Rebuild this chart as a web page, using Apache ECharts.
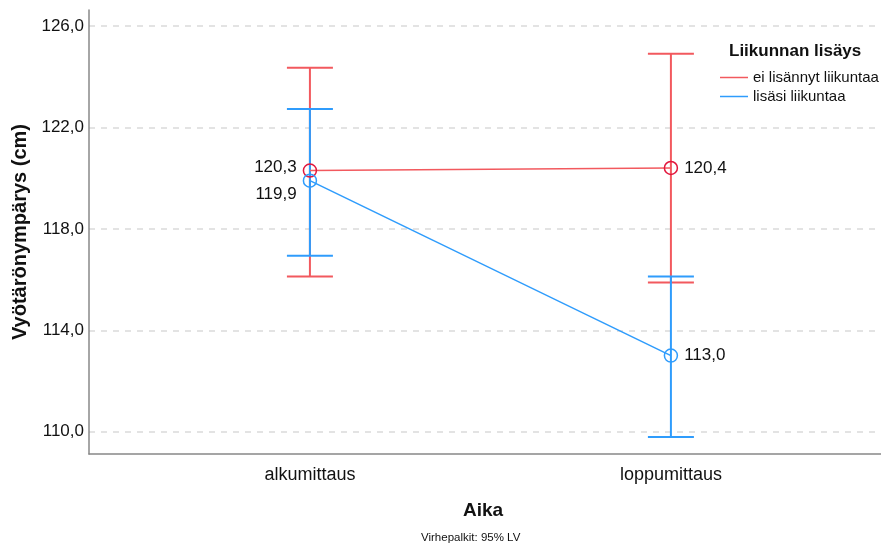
<!DOCTYPE html>
<html><head><meta charset="utf-8">
<script src="https://cdn.jsdelivr.net/npm/echarts@6/dist/echarts.min.js"></script>
<style>html,body{margin:0;padding:0;background:#fff}#c{width:881px;height:547px}</style>
</head><body><div id="c"></div>
<script>
const categories = ['alkumittaus', 'loppumittaus'];
const seriesNames = ['ei lisännyt liikuntaa', 'lisäsi liikuntaa'];
const meansRed = [120.3, 120.4];
const lowerRed = [116.12, 115.88];
const upperRed = [124.35, 124.90];
const meansBlue = [119.9, 113.0];
const lowerBlue = [116.94, 109.79];
const upperBlue = [122.73, 116.12];
const yTicks = [110, 114, 118, 122, 126];

const RED = '#f2595e', RED_M = '#e2163c', BLUE = '#2f9cfc';
const FONT = 'Liberation Sans, Arial, sans-serif';
const fmt = v => v.toFixed(1).replace('.', ',');

function errSeries(name, lo, hi, color, z) {
  return {
    type: 'custom', name: name + ' err', z: z, silent: true,
    data: categories.map((c, i) => [i, lo[i], hi[i]]),
    renderItem: function (params, api) {
      const x = api.value(0);
      const p1 = api.coord([x, api.value(1)]);
      const p2 = api.coord([x, api.value(2)]);
      const hw = 23;
      const st = { stroke: color, lineWidth: 2 };
      return { type: 'group', children: [
        { type: 'line', shape: { x1: p1[0], y1: p1[1], x2: p2[0], y2: p2[1] }, style: st },
        { type: 'line', shape: { x1: p1[0] - hw, y1: p1[1], x2: p1[0] + hw, y2: p1[1] }, style: st },
        { type: 'line', shape: { x1: p2[0] - hw, y1: p2[1], x2: p2[0] + hw, y2: p2[1] }, style: st }
      ]};
    }
  };
}

function lineSeries(name, means, color, mcolor, labelPos, z) {
  return {
    type: 'line', name: name, z: z,
    data: means.map((m, i) => ({ value: [i, m], label: labelPos[i] })),
    symbol: 'circle', symbolSize: 13,
    lineStyle: { color: color, width: 1.5 },
    itemStyle: { color: 'rgba(0,0,0,0)', borderColor: mcolor, borderWidth: 1.5 },
    label: { show: true, formatter: p => fmt(p.value[1]), color: '#111', fontSize: 17, fontFamily: FONT },
    emphasis: { disabled: true }
  };
}

const gridLineSeries = {
  type: 'line', name: 'grid', z: 0, silent: true, data: [],
  markLine: {
    z: 0, silent: true, symbol: ['none', 'none'], label: { show: false }, animation: false,
    lineStyle: { color: '#e3e3e3', width: 2, type: [6, 6] },
    emphasis: { disabled: true },
    data: yTicks.map(v => ({ yAxis: v }))
  }
};

const chart = echarts.init(document.getElementById('c'), null, { renderer: 'canvas' });
chart.setOption({
  animation: false,
  backgroundColor: '#fff',
  grid: { left: 89, right: 0, top: 10, bottom: 93 },
  xAxis: {
    type: 'value', min: -0.612, max: 1.582,
    name: 'Aika', nameLocation: 'middle', nameGap: 47,
    nameTextStyle: { fontSize: 19, fontWeight: 'bold', color: '#111', fontFamily: FONT, padding: [0, 4, 0, 0] },
    axisLine: { show: true, onZero: false, lineStyle: { color: '#888', width: 1.5 } },
    axisTick: { show: false },
    splitLine: { show: false },
    axisLabel: {
      customValues: [0, 1], color: '#111', fontSize: 18, fontFamily: FONT, margin: 12,
      formatter: v => categories[Math.round(v)]
    }
  },
  yAxis: {
    type: 'value', min: 109.12, max: 126.63,
    name: 'Vyötärönympärys (cm)', nameLocation: 'middle', nameGap: 55, nameRotate: 90,
    nameTextStyle: { fontSize: 20, fontWeight: 'bold', color: '#111', fontFamily: FONT },
    axisLine: { show: true, onZero: false, lineStyle: { color: '#888', width: 1.5 } },
    axisTick: { show: false },
    axisLabel: { customValues: yTicks, color: '#111', fontSize: 17, fontFamily: FONT, margin: 5, formatter: v => fmt(v) },
    splitLine: { show: false }
  },
  legend: {
    left: 715, top: 65, orient: 'vertical', itemGap: 4,
    data: [
      { name: seriesNames[0], itemStyle: { color: RED, borderColor: RED, borderWidth: 0 } },
      { name: seriesNames[1], itemStyle: { color: BLUE, borderColor: BLUE, borderWidth: 0 } }
    ],
    icon: 'rect', itemWidth: 28, itemHeight: 1.5,
    textStyle: { fontSize: 15, color: '#111', fontFamily: FONT, padding: [0, 0, 0, 0] }
  },
  graphic: [
    { type: 'text', left: 729, top: 43, style: { text: 'Liikunnan lisäys', font: 'bold 17px ' + FONT, fill: '#111' } },
    { type: 'text', left: 421, top: 532, style: { text: 'Virhepalkit: 95% LV', font: '11.5px ' + FONT, fill: '#111' } }
  ],
  series: [
    gridLineSeries,
    errSeries(seriesNames[0], lowerRed, upperRed, RED, 2),
    errSeries(seriesNames[1], lowerBlue, upperBlue, BLUE, 3),
    lineSeries(seriesNames[0], meansRed, RED, RED_M, [
      { position: 'left', distance: 6, offset: [0, -3] },
      { position: 'right', distance: 6 }
    ], 4),
    lineSeries(seriesNames[1], meansBlue, BLUE, BLUE, [
      { position: 'left', distance: 6, offset: [0, 14] },
      { position: 'right', distance: 6 }
    ], 5)
  ]
});
</script></body></html>
